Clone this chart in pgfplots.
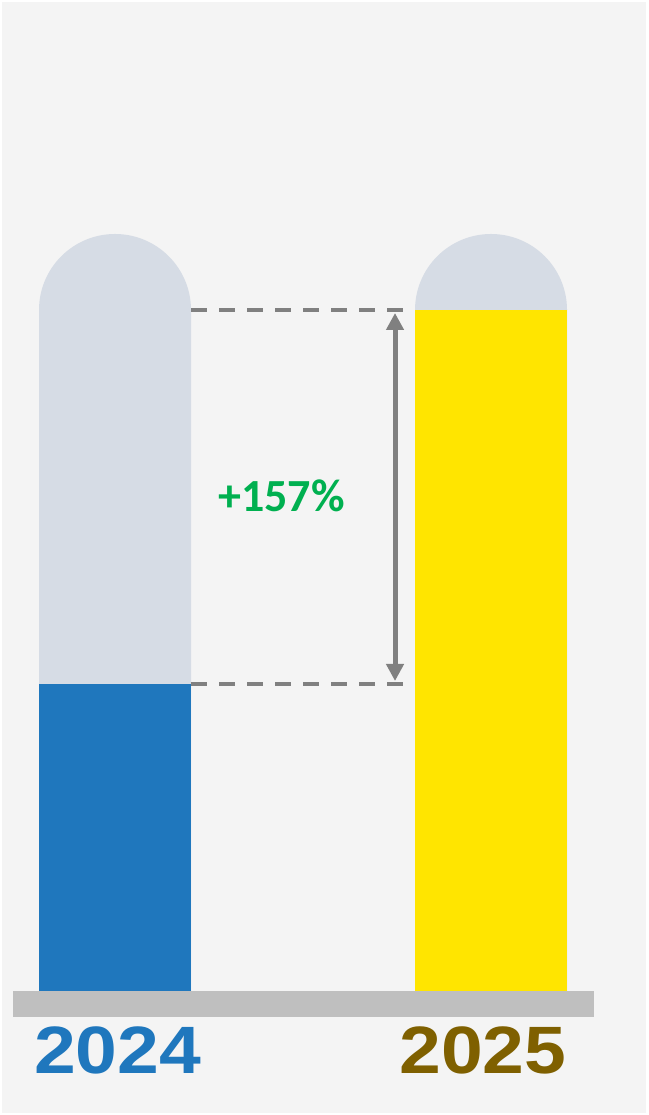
\documentclass[border=0pt]{standalone}
\usepackage{pgfplots}
\pgfplotsset{compat=1.18}
\usetikzlibrary{arrows.meta}
\usepackage{fontspec}
\setmainfont{Liberation Sans}
\newfontfamily\calibri{Carlito}

\definecolor{bggray}{HTML}{F4F4F4}
\definecolor{capgray}{HTML}{D6DCE5}
\definecolor{bluebar}{HTML}{1F77BD}
\definecolor{yellowbar}{HTML}{FFE500}
\definecolor{basegray}{HTML}{BFBFBF}
\definecolor{dashgray}{HTML}{808080}
\definecolor{upgreen}{HTML}{00B050}
\definecolor{goldtxt}{HTML}{7F6000}

\begin{document}
\begin{tikzpicture}
\begin{axis}[
  scale only axis,
  width=648bp, height=1115bp,
  xmin=0, xmax=648,
  ymin=-124, ymax=991,
  hide axis,
  clip=false,
]
% frame and background
\fill[white] (axis cs:0,-124) rectangle (axis cs:648,991);
\fill[bggray] (axis cs:2,-122) rectangle (axis cs:646,989);

% full-height background bars with round caps
\addplot[ybar, bar width=152, bar shift=0pt, fill=capgray, draw=none] coordinates {(115,681) (491,681)};
\fill[capgray] (axis cs:39,681) arc[start angle=180, end angle=0, radius=76bp];
\fill[capgray] (axis cs:415,681) arc[start angle=180, end angle=0, radius=76bp];

% values
\addplot[ybar, bar width=152, bar shift=0pt, fill=bluebar, draw=none] coordinates {(115,307)};
\addplot[ybar, bar width=152, bar shift=0pt, fill=yellowbar, draw=none] coordinates {(491,681)};

% base strip
\fill[basegray] (axis cs:13,0) rectangle (axis cs:594,-26);

% dashed guides and arrow
\draw[dashgray, line width=4bp, dash pattern=on 16bp off 12bp] (axis cs:191,681) -- (axis cs:403,681);
\draw[dashgray, line width=4bp, dash pattern=on 16bp off 12bp] (axis cs:191,307) -- (axis cs:403,307);
\draw[dashgray, line width=5bp, {Triangle[width=17bp,length=17bp]}-{Triangle[width=17bp,length=17bp]}]
  (axis cs:395,678) -- (axis cs:395,310);

\node[anchor=base, text=upgreen, font={\calibri\bfseries\fontsize{46bp}{50bp}\selectfont}]
  at (axis cs:281.5,479) {+157\%};

\node[anchor=base, text=bluebar, xscale=1.12, font={\bfseries\fontsize{67bp}{70bp}\selectfont}]
  at (axis cs:117.5,-83) {2024};
\node[anchor=base, text=goldtxt, xscale=1.12, font={\bfseries\fontsize{67bp}{70bp}\selectfont}]
  at (axis cs:483,-83) {2025};
\end{axis}
\end{tikzpicture}
\end{document}
